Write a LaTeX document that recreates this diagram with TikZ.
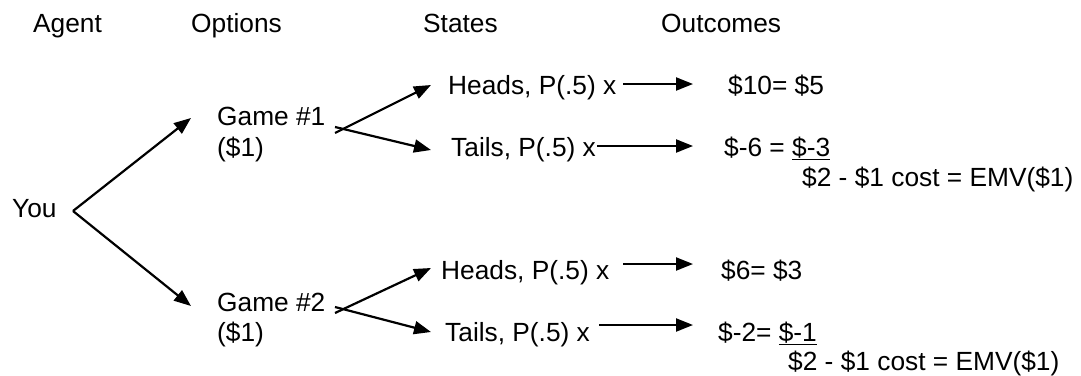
\documentclass[tikz,border=0pt]{standalone}
\usepackage{fontspec}
\setmainfont{Liberation Sans}
\usetikzlibrary{arrows.meta}
\begin{document}
\begin{tikzpicture}[x=1pt,y=-1pt,
  txt/.style={anchor=base west, inner sep=0pt, font=\fontsize{26.3}{31}\selectfont},
  arr/.style={line width=2.2pt, -{Triangle[length=17pt,width=13pt]}}]
\useasboundingbox (0,0) rectangle (1081,375);
% headings
\node[txt] (agent) at (33,32) {Agent};
\node[txt] (options) at (191,32) {Options};
\node[txt] (states) at (423,32) {States};
\node[txt] (outcomes) at (661,32) {Outcomes};
% agent
\node[txt] (you) at (12,217) {You};
% options
\node[txt] (g1) at (217,125) {Game \#1};
\node[txt] (g1c) at (217,156) {(\$1)};
\node[txt] (g2) at (217,311) {Game \#2};
\node[txt] (g2c) at (217,341) {(\$1)};
% states
\node[txt] (h1) at (448,94) {Heads, P(.5) x};
\node[txt] (t1) at (451,156) {Tails, P(.5) x};
\node[txt] (h2) at (441,279) {Heads, P(.5) x};
\node[txt] (t2) at (445,341) {Tails, P(.5) x};
% outcomes
\node[txt] (o1) at (728,94) {\$10= \$5};
\node[txt] (o2) at (724,156) {\$-6 = \underline{\$-3}};
\node[txt] (e1) at (802,186) {\$2 - \$1 cost = EMV(\$1)};
\node[txt] (o3) at (721,279) {\$6= \$3};
\node[txt] (o4) at (718,341) {\$-2= \underline{\$-1}};
\node[txt] (e2) at (788,370) {\$2 - \$1 cost = EMV(\$1)};
% junctions and arrow tips
\coordinate (yj) at (73,211);
\coordinate (g1in) at (191,118);
\coordinate (g2in) at (191,306);
\coordinate (b1h) at (335,133);
\coordinate (b1t) at (335,127);
\coordinate (h1in) at (431,85);
\coordinate (t1in) at (431,150);
\coordinate (b2h) at (335,313);
\coordinate (b2t) at (335,307);
\coordinate (h2in) at (431,268);
\coordinate (t2in) at (431,332);
\coordinate (a1s) at (623,84);
\coordinate (a1e) at (693,84);
\coordinate (a2s) at (597,146);
\coordinate (a2e) at (693,146);
\coordinate (a3s) at (623,264);
\coordinate (a3e) at (693,264);
\coordinate (a4s) at (599,325);
\coordinate (a4e) at (693,325);
% connectors
\draw[arr] (yj) -- (g1in);
\draw[arr] (yj) -- (g2in);
\draw[arr] (b1h) -- (h1in);
\draw[arr] (b1t) -- (t1in);
\draw[arr] (b2h) -- (h2in);
\draw[arr] (b2t) -- (t2in);
\draw[arr] (a1s) -- (a1e);
\draw[arr] (a2s) -- (a2e);
\draw[arr] (a3s) -- (a3e);
\draw[arr] (a4s) -- (a4e);
\end{tikzpicture}
\end{document}
